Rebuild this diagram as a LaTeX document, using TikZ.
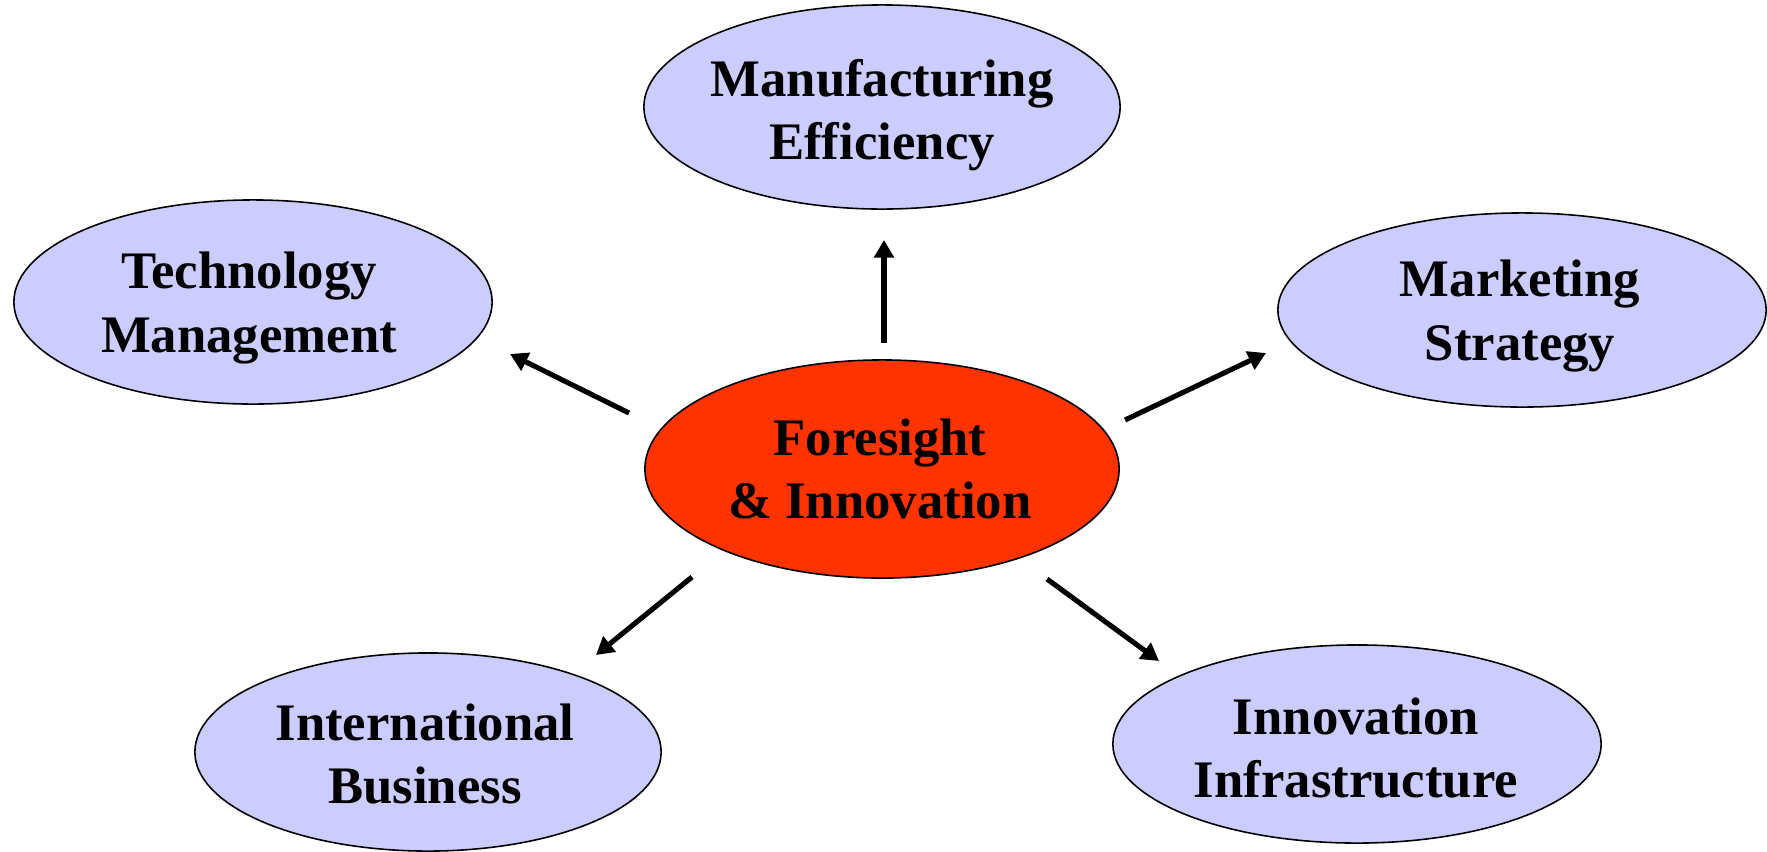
\documentclass[tikz,border=0pt]{standalone}
\usepackage{fontspec}
\setmainfont{Liberation Serif}
\usetikzlibrary{shapes.geometric,arrows.meta}
\definecolor{lav}{RGB}{204,204,255}
\definecolor{fire}{RGB}{255,51,0}
\begin{document}
\begin{tikzpicture}[x=0.01cm,y=-0.01cm,
  bubble/.style={ellipse,draw=black,line width=0.45pt,inner sep=0pt},
  lbl/.style={align=center,inner sep=0pt,font=\fontsize{15}{18}\selectfont\bfseries},
  arr/.style={line width=1.45pt,-{Triangle[length=5pt,width=5.5pt]}}]
\useasboundingbox (0,0) rectangle (1767,851);
% ellipses
\node[bubble,fill=lav,minimum width=4.76cm,minimum height=2.04cm] (mfg) at (882,107) {};
\node[bubble,fill=lav,minimum width=4.78cm,minimum height=2.04cm] (tech) at (253,302) {};
\node[bubble,fill=lav,minimum width=4.88cm,minimum height=1.94cm] (mkt) at (1522,310) {};
\node[bubble,fill=fire,minimum width=4.74cm,minimum height=2.18cm] (fi) at (882,469) {};
\node[bubble,fill=lav,minimum width=4.66cm,minimum height=1.98cm] (intl) at (428,752) {};
\node[bubble,fill=lav,minimum width=4.88cm,minimum height=1.98cm] (infra) at (1357,744) {};
% labels
\node[lbl] (mfgT) at (882,115) {Manufacturing\\Efficiency};
\node[lbl] (techT) at (249,308) {Technology\\Management};
\node[lbl] (mktT) at (1520,316) {Marketing\\Strategy};
\node[lbl] (fiT) at (880,469) {Foresight\\\& Innovation};
\node[lbl] (intlT) at (425,754) {International\\Business};
\node[lbl] (infraT) at (1356,748) {Innovation\\Infrastructure};
% arrow ends
\coordinate (upS) at (884,343);   \coordinate (upE) at (884,240);
\coordinate (lS) at (629,413);    \coordinate (lE) at (510,354);
\coordinate (rS) at (1125,420);   \coordinate (rE) at (1266,353);
\coordinate (dlS) at (692,577);   \coordinate (dlE) at (596,655);
\coordinate (drS) at (1047,579);  \coordinate (drE) at (1159,661);
\draw[arr] (upS) -- (upE);
\draw[arr] (lS) -- (lE);
\draw[arr] (rS) -- (rE);
\draw[arr] (dlS) -- (dlE);
\draw[arr] (drS) -- (drE);
\end{tikzpicture}
\end{document}
